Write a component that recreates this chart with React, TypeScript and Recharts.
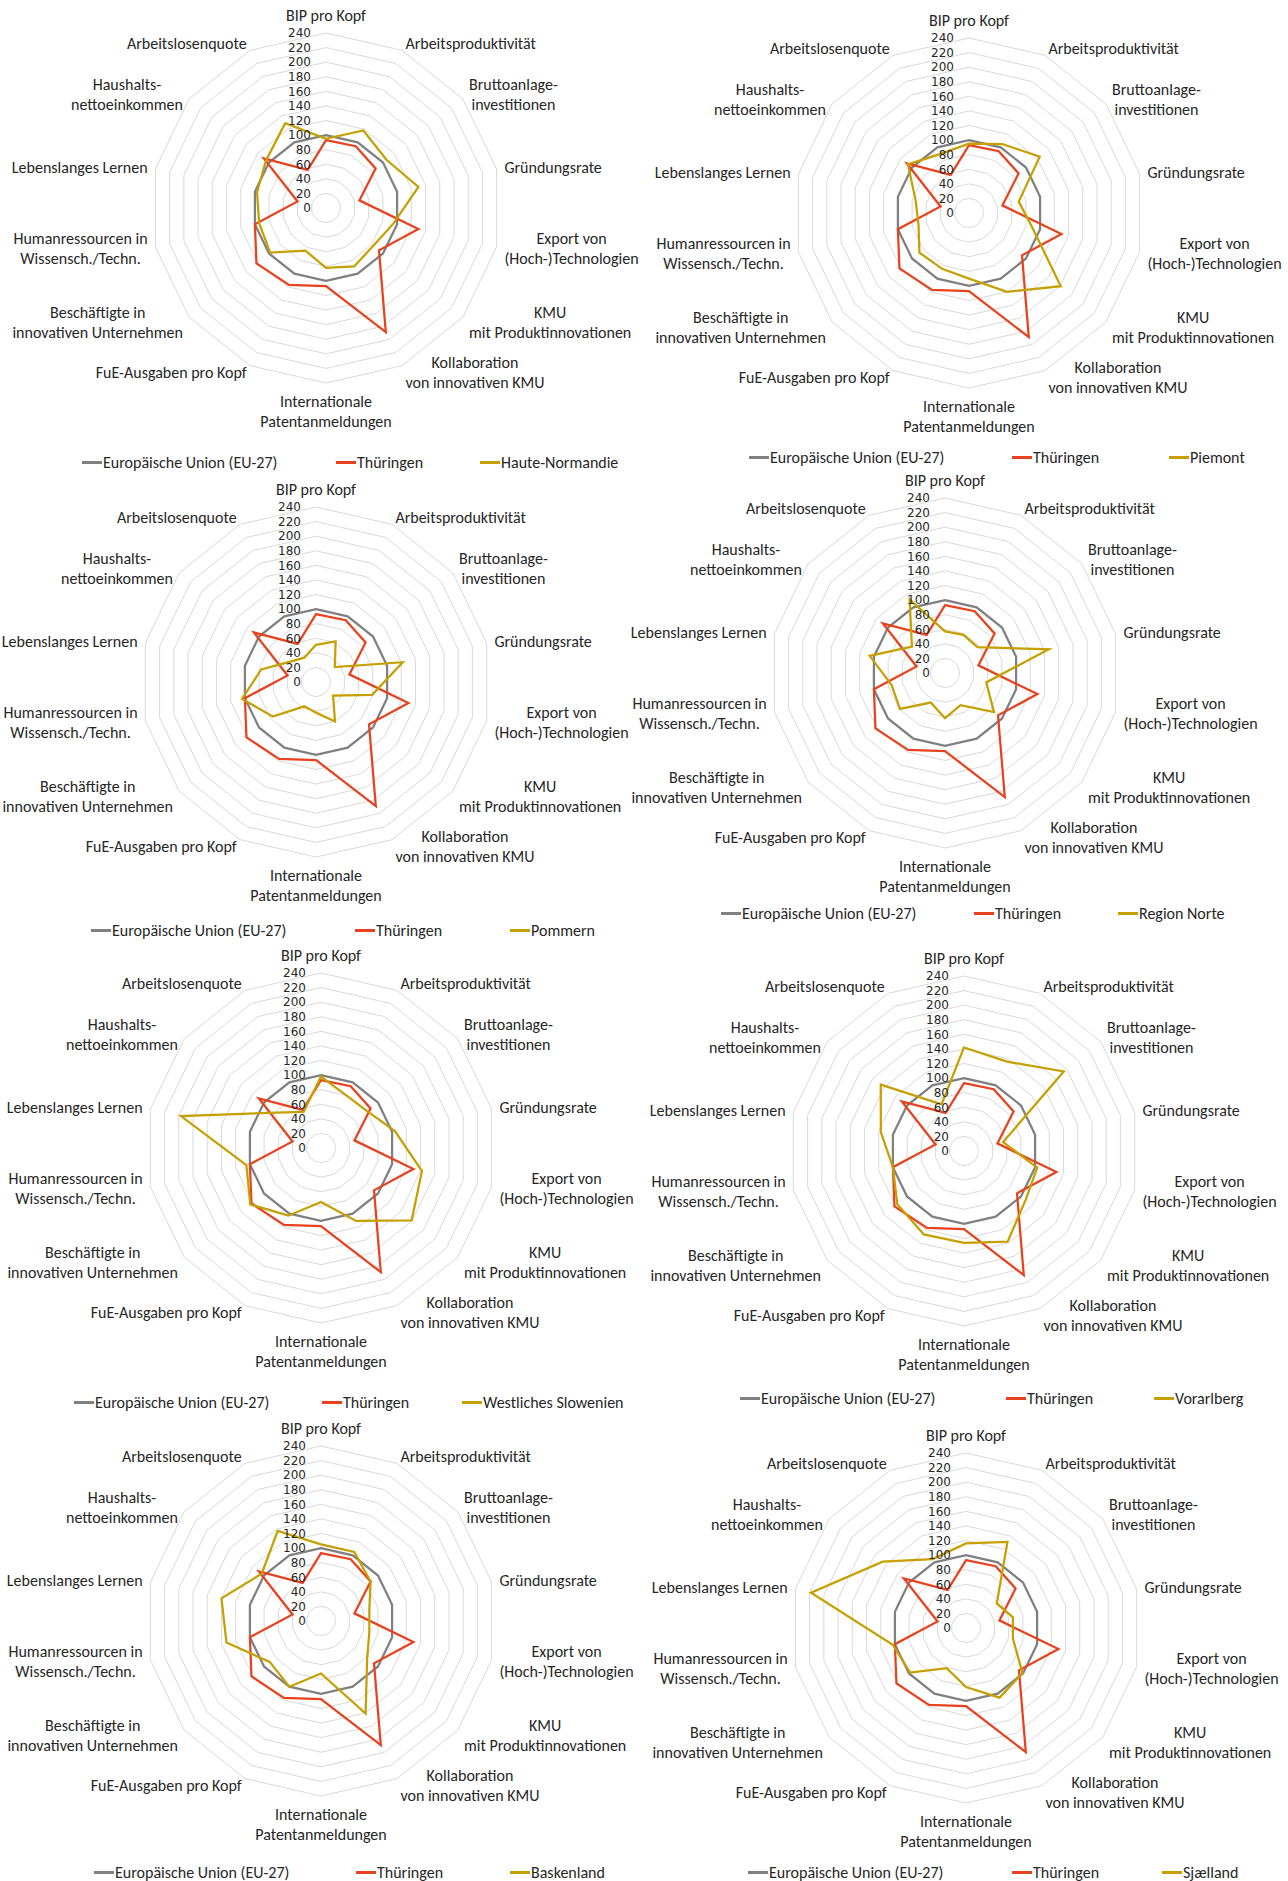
import React from 'react';
import { RadarChart, Radar, PolarGrid, PolarAngleAxis, PolarRadiusAxis } from 'recharts';

// 14 Indikatoren, im Uhrzeigersinn ab oben
const indicators = [
  'BIP pro Kopf',
  'Arbeitsproduktivität',
  'Bruttoanlage-\ninvestitionen',
  'Gründungsrate',
  'Export von\n(Hoch-)Technologien',
  'KMU\nmit Produktinnovationen',
  'Kollaboration\nvon innovativen KMU',
  'Internationale\nPatentanmeldungen',
  'FuE-Ausgaben pro Kopf',
  'Beschäftigte in\ninnovativen Unternehmen',
  'Humanressourcen in\nWissensch./Techn.',
  'Lebenslanges Lernen',
  'Haushalts-\nnettoeinkommen',
  'Arbeitslosenquote',
];

const radiusTicks = [0, 20, 40, 60, 80, 100, 120, 140, 160, 180, 200, 220, 240];

const euValues = [100, 100, 100, 100, 100, 100, 100, 100, 100, 100, 100, 100, 100, 100];
const thueringen = [93, 94, 87, 47, 130, 93, 189, 107, 117, 122, 100, 40, 109, 58];

const hauteNormandie = [95, 118, 106, 130, 95, 83, 89, 82, 65, 98, 94, 97, 105, 129];
const piemont = [95, 105, 124, 70, 89, 161, 120, 90, 85, 87, 71, 75, 107, 90];
const pommern = [51, 62, 33, 122, 79, 30, 60, 42, 37, 76, 104, 77, 45, 37];
const regionNorte = [57, 58, 57, 146, 58, 86, 49, 62, 45, 79, 75, 106, 58, 112];
const westlichesSlowenien = [98, 80, 81, 104, 142, 159, 111, 74, 103, 124, 105, 197, 78, 55];
const vorarlberg = [142, 136, 175, 55, 103, 108, 138, 126, 127, 117, 100, 117, 146, 71];
const baskenland = [105, 105, 87, 68, 68, 81, 141, 72, 100, 90, 133, 140, 104, 137];
const sjaelland = [116, 131, 54, 66, 66, 99, 106, 81, 61, 98, 103, 218, 146, 105];

const EU_NAME = 'Europäische Union (EU-27)';
const TH_NAME = 'Thüringen';

const GRAY = '#808080';
const RED = '#e8411e';
const GOLD = '#c5a000';

const FONT = "Carlito, Calibri, Lato, 'Open Sans', sans-serif";
const TICK_FONT = "'DejaVu Sans', sans-serif";
const FS = 16;
const LH = 20;
const R = 175;
const GAP = 8;
const BOX_W = 680;
const BOX_H = 450;
const CX_LOCAL = 340;
const CY_LOCAL = 215;

const charts = [
  { region: 'Haute-Normandie', values: hauteNormandie, cx: 326, cy: 208, legendY: 462, legendX: [82, 336, 480] },
  { region: 'Piemont', values: piemont, cx: 969, cy: 213, legendY: 457, legendX: [749, 1012, 1169] },
  { region: 'Pommern', values: pommern, cx: 316, cy: 682, legendY: 930, legendX: [91, 355, 510] },
  { region: 'Region Norte', values: regionNorte, cx: 945, cy: 673, legendY: 913, legendX: [721, 974, 1118] },
  { region: 'Westliches Slowenien', values: westlichesSlowenien, cx: 321, cy: 1148, legendY: 1402, legendX: [74, 322, 462] },
  { region: 'Vorarlberg', values: vorarlberg, cx: 964, cy: 1151, legendY: 1398, legendX: [740, 1006, 1154] },
  { region: 'Baskenland', values: baskenland, cx: 321, cy: 1621, legendY: 1872, legendX: [94, 356, 510] },
  { region: 'Sjælland', values: sjaelland, cx: 966, cy: 1628, legendY: 1872, legendX: [748, 1012, 1162] },
];

let ctx: CanvasRenderingContext2D | null = null;
function textWidth(s: string) {
  if (!ctx) ctx = document.createElement('canvas').getContext('2d');
  if (!ctx) return s.length * FS * 0.5;
  ctx.font = `${FS}px ${FONT}`;
  return ctx.measureText(s).width;
}

const AngleTick = (props: any) => {
  const { index, payload } = props;
  const lines = String(payload.value).split('\n');
  const a = (index * 2 * Math.PI) / indicators.length;
  const dx = Math.sin(a);
  const dy = -Math.cos(a);
  const px = CX_LOCAL + (R + GAP) * dx;
  const py = CY_LOCAL + (R + GAP) * dy;
  const w = Math.max(...lines.map(textWidth));
  let x = px;
  let y0: number;
  if (Math.abs(dx) < 0.1) {
    y0 = dy < 0 ? py - LH / 2 - (lines.length - 1) * LH : py + LH / 2;
  } else {
    x = dx > 0 ? px + w / 2 : px - w / 2;
    y0 = py - ((lines.length - 1) * LH) / 2;
  }
  return (
    <text textAnchor="middle" fontFamily={FONT} fontSize={FS} fill="#262626">
      {lines.map((l, i) => (
        <tspan key={i} x={x} y={y0 + i * LH} dy="0.35em">
          {l}
        </tspan>
      ))}
    </text>
  );
};

const RadiusTick = (props: any) => {
  const { x, y, payload } = props;
  return (
    <text x={x - 15} y={y} dy="0.36em" textAnchor="end" fontFamily={TICK_FONT} fontSize={12} fill="#262626">
      {payload.value}
    </text>
  );
};

const LegendItem: React.FC<{ x: number; y: number; color: string; label: string }> = ({ x, y, color, label }) => (
  <div
    style={{
      position: 'absolute',
      left: x,
      top: y - 10,
      height: 20,
      display: 'flex',
      alignItems: 'center',
      fontFamily: FONT,
      fontSize: FS,
      color: '#262626',
      whiteSpace: 'nowrap',
    }}
  >
    <span style={{ display: 'inline-block', width: 20, height: 3, background: color, marginRight: 1 }} />
    {label}
  </div>
);

const RegionRadar: React.FC<{ chart: (typeof charts)[number] }> = ({ chart }) => {
  const data = indicators.map((name, i) => ({
    indicator: name,
    eu: euValues[i],
    th: thueringen[i],
    region: chart.values[i],
  }));
  return (
    <div style={{ position: 'absolute', left: chart.cx - CX_LOCAL, top: chart.cy - CY_LOCAL, width: BOX_W, height: BOX_H }}>
      <RadarChart width={BOX_W} height={BOX_H} data={data} cx={CX_LOCAL} cy={CY_LOCAL} outerRadius={R} margin={{ top: 0, right: 0, bottom: 0, left: 0 }}>
        <PolarGrid stroke="#d9d9d9" strokeWidth={1} radialLines={false} />
        <PolarAngleAxis dataKey="indicator" tick={AngleTick} tickLine={false} axisLine={false} />
        <Radar dataKey="eu" name={EU_NAME} stroke={GRAY} strokeWidth={2.25} fill="none" fillOpacity={0} dot={false} isAnimationActive={false} />
        <Radar dataKey="th" name={TH_NAME} stroke={RED} strokeWidth={2.25} fill="none" fillOpacity={0} dot={false} isAnimationActive={false} />
        <Radar dataKey="region" name={chart.region} stroke={GOLD} strokeWidth={2.25} fill="none" fillOpacity={0} dot={false} isAnimationActive={false} />
        <PolarRadiusAxis
          angle={90}
          type="number"
          domain={[0, 240]}
          ticks={radiusTicks as any}
          tickCount={radiusTicks.length}
          axisLine={false}
          tickLine={false}
          tick={RadiusTick}
        />
      </RadarChart>
    </div>
  );
};

const App: React.FC = () => {
  return (
    <div style={{ position: 'absolute', left: 0, top: 0, width: 1288, height: 1881, background: '#fff', overflow: 'hidden' }}>
      {charts.map((c) => (
        <RegionRadar key={c.region} chart={c} />
      ))}
      {charts.map((c) => (
        <React.Fragment key={c.region + '-legend'}>
          <LegendItem x={c.legendX[0]} y={c.legendY} color={GRAY} label={EU_NAME} />
          <LegendItem x={c.legendX[1]} y={c.legendY} color={RED} label={TH_NAME} />
          <LegendItem x={c.legendX[2]} y={c.legendY} color={GOLD} label={c.region} />
        </React.Fragment>
      ))}
    </div>
  );
};

export default App;
